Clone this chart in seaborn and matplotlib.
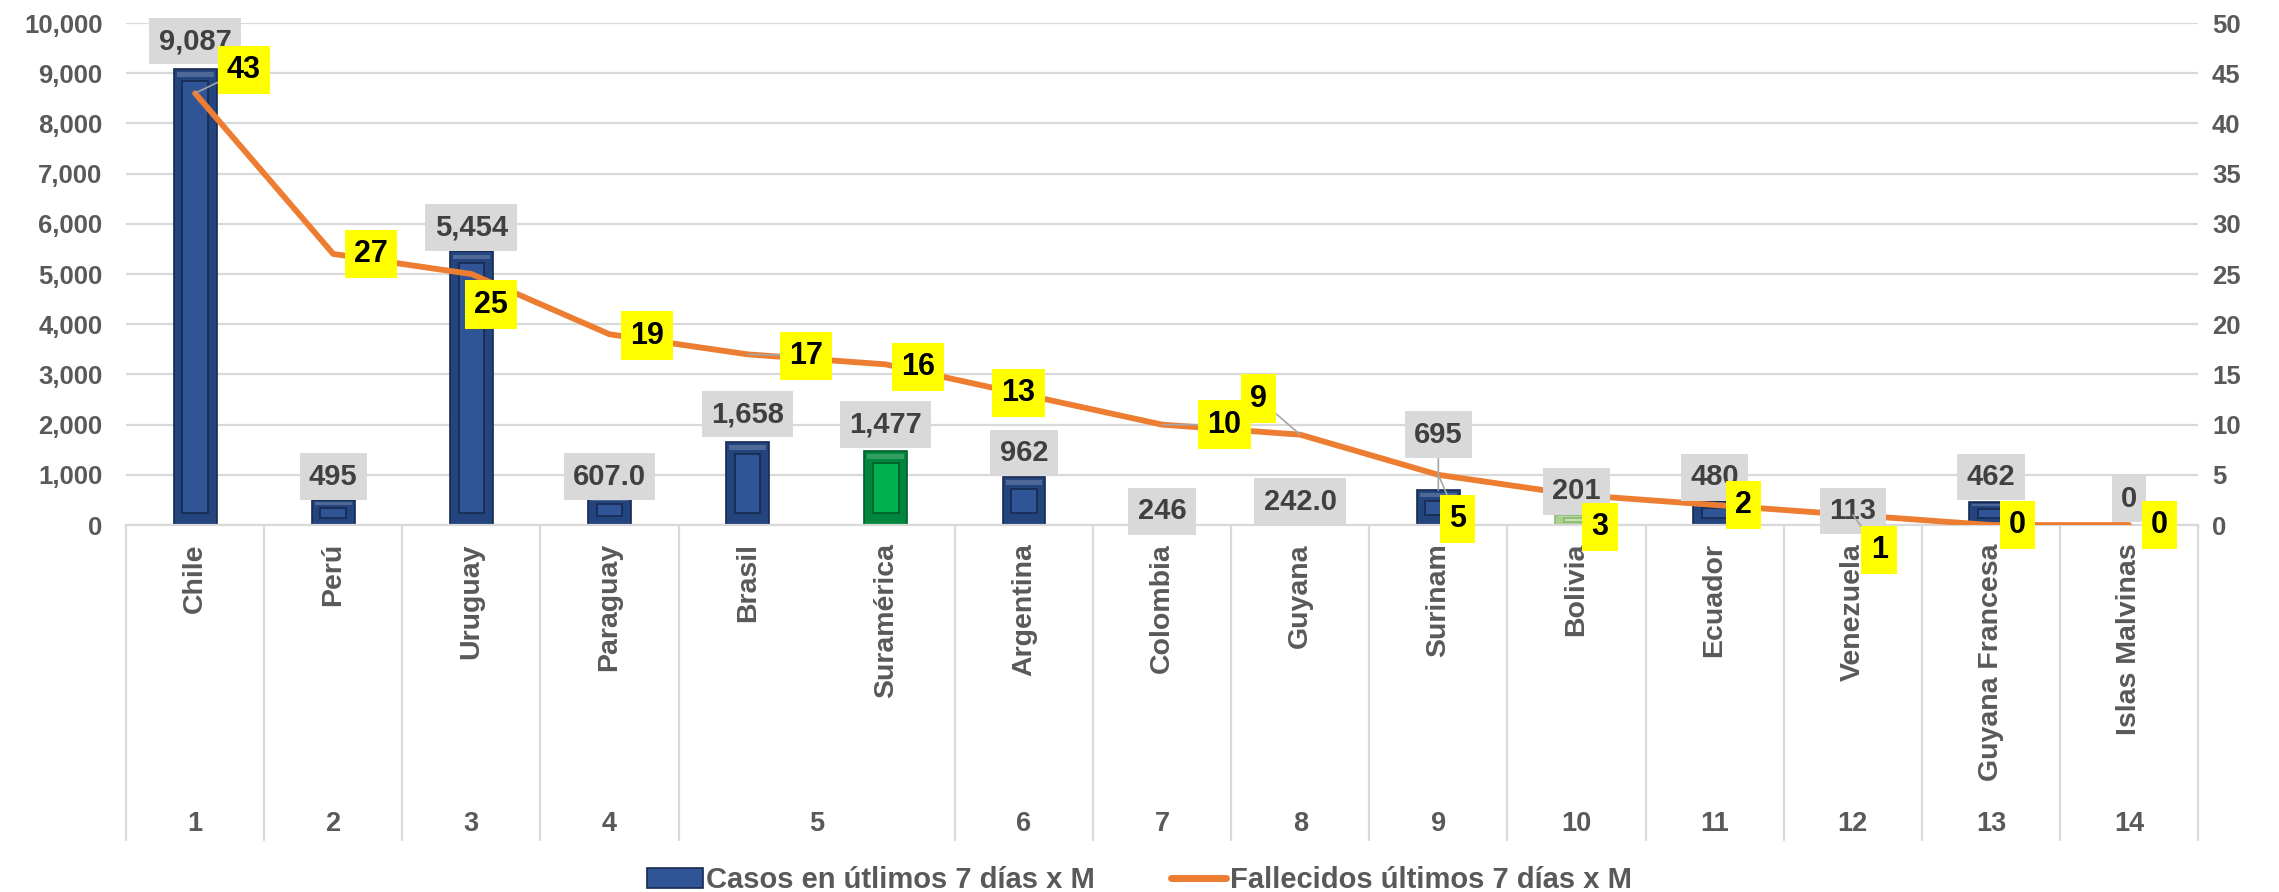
import numpy as np
import pandas as pd
import matplotlib
matplotlib.use('Agg')
import matplotlib.pyplot as plt
import seaborn as sns
from matplotlib.patches import Rectangle, Patch
from matplotlib.lines import Line2D
from matplotlib.transforms import blended_transform_factory
from matplotlib.ticker import FuncFormatter, MultipleLocator

# ---------------- data ----------------
countries = ['Chile', 'Perú', 'Uruguay', 'Paraguay', 'Brasil', 'Suramérica',
             'Argentina', 'Colombia', 'Guyana', 'Surinam', 'Bolivia', 'Ecuador',
             'Venezuela', 'Guyana Francesa', 'Islas Malvinas']
group_numbers = [1, 2, 3, 4, 5, 5, 6, 7, 8, 9, 10, 11, 12, 13, 14]
cases = [9087, 495, 5454, 607.0, 1658, 1477, 962, 246, 242.0, 695, 201, 480, 113, 462, 0]
case_labels = ['9,087', '495', '5,454', '607.0', '1,658', '1,477', '962', '246',
               '242.0', '695', '201', '480', '113', '462', '0']
deaths = [43, 27, 25, 19, 17, 16, 13, 10, 9, 5, 3, 2, 1, 0, 0]
series_names = ['Casos en útlimos 7 días x M', 'Fallecidos últimos 7 días x M']

# ---------------- label layout (points offsets) ----------------
case_label_dy = [20, 17, 17, 13, 20, 19, 17, 1, 8, 40, 17, 17, 6, 18, 19]
death_label_off = [(35, 17), (27, 0), (14, -22), (27, -1), (42, -1), (23, -2), (-4, 1),
                   (45, 0), (-30, 26), (14, -32), (17, -23), (21, 0), (19, -25), (19, 0), (22, 0)]
leader_death = [True, False, False, False, True, False, False, True, True, True,
                False, False, True, False, False]

# ---------------- style ----------------
sns.set_theme(style='white')
font_list = ['Liberation Sans', 'DejaVu Sans']
plt.rcParams['font.family'] = font_list
GRAY_TXT = '#595959'
BLUE = '#2F5597'
GREEN = '#00B050'
PALE_GREEN = '#C5E0B3'
ORANGE = '#ED7D31'

fig = plt.figure(figsize=(22.79, 8.92), dpi=100)
ax = fig.add_axes([0.0553, 0.4114, 0.9092, 0.5628])

df = pd.DataFrame({'pais': countries, 'casos': cases})
palette = [BLUE] * len(countries)
palette[countries.index('Suramérica')] = GREEN
palette[countries.index('Bolivia')] = PALE_GREEN
sns.barplot(data=df, x='pais', y='casos', hue='pais', palette=palette, width=0.31,
            legend=False, ax=ax, saturation=1, zorder=2)

ax.set_ylim(0, 10000)
ax.set_xlim(-0.5, len(countries) - 0.5)
ax.yaxis.set_major_locator(MultipleLocator(1000))
ax.yaxis.set_major_formatter(FuncFormatter(lambda v, p: f'{int(v):,}'))
ax.set_xlabel('')
ax.set_ylabel('')
ax.set_xticks(range(len(countries)))
ax.set_xticklabels([''] * len(countries))
ax.tick_params(axis='x', length=0)
ax.tick_params(axis='y', length=0, labelsize=18.5, labelcolor=GRAY_TXT, pad=17)
for t in ax.get_yticklabels():
    t.set_fontweight('bold')
ax.yaxis.grid(True, color='#D9D9D9', lw=1.6, zorder=0)
ax.xaxis.grid(False)
for s in ['left', 'right', 'top']:
    ax.spines[s].set_visible(False)
ax.spines['bottom'].set_color('#D9D9D9')
ax.spines['bottom'].set_linewidth(1.6)

# bevel look on bars
fig.canvas.draw()
px_per_unit = (ax.transData.transform((0, 1000))[1] - ax.transData.transform((0, 0))[1]) / 1000.0
for patch, col in zip(ax.patches, palette):
    x, y = patch.get_x(), patch.get_y()
    w, h = patch.get_width(), patch.get_height()
    if col == BLUE:
        frame, inner, edge = '#24447E', '#2F5597', '#172A50'
    elif col == GREEN:
        frame, inner, edge = '#00873D', '#00B050', '#005C28'
    else:
        frame, inner, edge = '#A9D08E', '#C5E0B3', '#8DB870'
    patch.set_facecolor(frame)
    patch.set_edgecolor(edge)
    patch.set_linewidth(1.2)
    if h <= 0:
        continue
    dx = w * 0.2
    dy = min(12 / px_per_unit, h * 0.3)
    ax.add_patch(Rectangle((x + dx, y + dy), w - 2 * dx, h - 2 * dy,
                           facecolor=inner, edgecolor=edge, lw=1.2, zorder=3))
    ax.add_patch(Rectangle((x + dx * 0.35, y + h - dy * 0.65), w - 0.7 * dx, dy * 0.35,
                           facecolor='white', alpha=0.2, lw=0, zorder=3))

# line on secondary axis
ax2 = ax.twinx()
sns.lineplot(x=np.arange(len(countries)), y=deaths, ax=ax2, color=ORANGE, lw=4.2,
             zorder=4, legend=False)
ax2.set_ylim(0, 50)
ax2.set_xlim(-0.5, len(countries) - 0.5)
ax2.yaxis.set_major_locator(MultipleLocator(5))
ax2.set_ylabel('')
ax2.grid(False)
ax2.tick_params(axis='y', length=0, labelsize=18.5, labelcolor=GRAY_TXT, pad=10)
for t in ax2.get_yticklabels():
    t.set_fontweight('bold')
for s in ax2.spines.values():
    s.set_visible(False)

# gray labels for cases
for i, (v, lab) in enumerate(zip(cases, case_labels)):
    dy = case_label_dy[i]
    kw = {}
    if dy > 30:
        kw['arrowprops'] = dict(arrowstyle='-', color='#A6A6A6', lw=1.2, shrinkA=0, shrinkB=0)
    ax2.annotate(lab, xy=(i, v), xycoords=ax.transData, xytext=(0, dy),
                 textcoords='offset points', ha='center', va='center',
                 fontsize=21, fontweight='bold', color='#404040', zorder=6,
                 bbox=dict(boxstyle='square,pad=0.32', facecolor='#D9D9D9', edgecolor='none'),
                 **kw)

# yellow labels for deaths
for i, v in enumerate(deaths):
    ox, oy = death_label_off[i]
    kw = {}
    if leader_death[i]:
        kw['arrowprops'] = dict(arrowstyle='-', color='#A6A6A6', lw=1.2, shrinkA=0, shrinkB=0)
    ax2.annotate(str(v), xy=(i, v), xytext=(ox, oy), textcoords='offset points',
                 ha='center', va='center', fontsize=22, fontweight='bold', color='black',
                 zorder=7,
                 bbox=dict(boxstyle='square,pad=0.3', facecolor='#FFFF00', edgecolor='none'),
                 **kw)

# multi-level category axis
trans = blended_transform_factory(ax.transData, ax.transAxes)
for i, name in enumerate(countries):
    ax.text(i, -0.036, name, transform=trans, rotation=90, ha='center', va='top',
            fontsize=20.5, fontweight='bold', color=GRAY_TXT, clip_on=False)
groups = sorted(set(group_numbers))
for g in groups:
    idx = [i for i, gg in enumerate(group_numbers) if gg == g]
    ax.text(np.mean(idx), -0.595, str(g), transform=trans, ha='center', va='center',
            fontsize=19.5, fontweight='bold', color=GRAY_TXT, clip_on=False)
bounds = [-0.5] + [i + 0.5 for i in range(len(countries) - 1)
                   if group_numbers[i] != group_numbers[i + 1]] + [len(countries) - 0.5]
for b in bounds:
    ax.add_line(Line2D([b, b], [0, -0.627], transform=trans, color='#D9D9D9', lw=1.6,
                       clip_on=False))

# legend
handles = [Patch(facecolor=BLUE, edgecolor='#172A50', lw=1.2),
           Line2D([0], [0], color=ORANGE, lw=5)]
leg = fig.legend(handles, series_names, loc='lower center', bbox_to_anchor=(0.5, -0.032),
                 ncol=2, frameon=False, fontsize=21, handlelength=1.9, columnspacing=2.6,
                 handletextpad=0.12)
for t in leg.get_texts():
    t.set_color(GRAY_TXT)
    t.set_fontweight('bold')

fig.savefig('out.png', dpi=100)
